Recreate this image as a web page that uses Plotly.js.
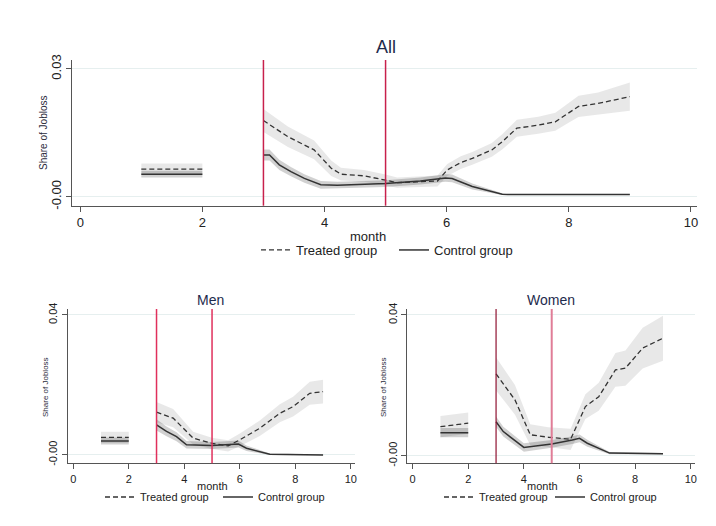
<!DOCTYPE html>
<html>
<head>
<meta charset="utf-8">
<script src="https://cdn.plot.ly/plotly-3.0.1.min.js"></script>
<style>html,body{margin:0;padding:0;background:#fff}#chart{width:716px;height:526px}</style>
</head>
<body>
<div id="chart"></div>
<script>
// ---------- data ----------
var panelTitles = ["All", "Men", "Women"];
var seriesNames = ["Treated group", "Control group"];
var xTitle = "month";
var yTitle = "Share of Jobloss";
var monthTicks = [0, 2, 4, 6, 8, 10];
var shareTickVals = [[0, 0.03], [0, 0.04], [0, 0.04]];
var shareTickText = [["-0.00", "0.03"], ["-0.00", "0.04"], ["-0.00", "0.04"]];
var eventMonths = [3, 5];

// All
var allTreatedX = [1, 2, null, 3.0, 3.40, 3.83, 4.11, 4.27, 4.65, 5.0, 5.19, 5.85, 6.01, 6.23, 6.42, 6.74, 6.91, 7.15, 7.50, 7.78, 7.99, 8.16, 8.48, 9.0];
var allTreatedY = [0.0065, 0.0065, null, 0.0179, 0.0141, 0.0110, 0.0067, 0.0053, 0.0049, 0.0039, 0.0033, 0.0037, 0.0063, 0.0080, 0.0090, 0.0110, 0.0129, 0.0161, 0.0168, 0.0176, 0.0196, 0.0212, 0.0219, 0.0235];
var allTreatedCI = [0.0013, 0.0013, null, 0.0027, 0.0024, 0.0022, 0.0018, 0.0015, 0.0014, 0.0013, 0.0012, 0.0013, 0.0014, 0.0015, 0.0015, 0.0016, 0.0018, 0.0020, 0.0020, 0.0021, 0.0023, 0.0025, 0.0026, 0.0033];
var allControlX = [1, 2, null, 3.0, 3.10, 3.26, 3.45, 3.67, 3.94, 4.21, 5.0, 5.57, 5.98, 6.09, 6.42, 6.91, 7.0, 9.0];
var allControlY = [0.0053, 0.0053, null, 0.0098, 0.0098, 0.0075, 0.0059, 0.0043, 0.0028, 0.0027, 0.0031, 0.0037, 0.0044, 0.0043, 0.0024, 0.0006, 0.0005, 0.0005];
var allControlCI = [0.0008, 0.0008, null, 0.0013, 0.0013, 0.0012, 0.0011, 0.0010, 0.0009, 0.0008, 0.0008, 0.0008, 0.0009, 0.0009, 0.0007, 0.0002, 0.0001, 0.0001];

// Men
var menTreatedX = [1, 2, null, 3.0, 3.6, 4.32, 5.0, 5.58, 6.0, 6.72, 7.44, 7.92, 8.52, 9.0];
var menTreatedY = [0.0050, 0.0050, null, 0.0122, 0.0105, 0.0048, 0.0033, 0.0026, 0.0043, 0.0076, 0.0119, 0.0138, 0.0176, 0.0181];
var menTreatedCI = [0.0016, 0.0016, null, 0.0029, 0.0026, 0.0018, 0.0016, 0.0016, 0.0018, 0.0022, 0.0026, 0.0028, 0.0033, 0.0034];
var menControlX = [1, 2, null, 3.0, 3.36, 3.72, 4.08, 5.0, 5.95, 6.24, 7.08, 9.0];
var menControlY = [0.0040, 0.0040, null, 0.0086, 0.0067, 0.0052, 0.0029, 0.0027, 0.0031, 0.0019, 0.0002, 0.0000];
var menControlCI = [0.0010, 0.0010, null, 0.0016, 0.0014, 0.0013, 0.0011, 0.0010, 0.0010, 0.0008, 0.0002, 0.0001];

// Women
var womenTreatedX = [1, 2, null, 3.0, 3.68, 4.23, 4.88, 5.68, 6.21, 6.69, 7.29, 7.65, 8.27, 9.0];
var womenTreatedY = [0.0083, 0.0093, null, 0.0233, 0.0159, 0.0060, 0.0053, 0.0047, 0.0140, 0.0168, 0.0244, 0.0249, 0.0306, 0.0334];
var womenTreatedCI = [0.0030, 0.0030, null, 0.0047, 0.0042, 0.0030, 0.0028, 0.0030, 0.0035, 0.0040, 0.0048, 0.0050, 0.0058, 0.0064];
var womenControlX = [1, 2, null, 3.0, 3.26, 4.0, 5.0, 5.74, 6.0, 6.28, 7.08, 9.0];
var womenControlY = [0.0066, 0.0066, null, 0.0097, 0.0069, 0.0024, 0.0034, 0.0045, 0.0050, 0.0036, 0.0008, 0.0006];
var womenControlCI = [0.0013, 0.0013, null, 0.0015, 0.0014, 0.0012, 0.0011, 0.0011, 0.0011, 0.0010, 0.0003, 0.0002];

// ---------- helpers ----------
function bandPolygon(xs, ys, cis) {
  var px = [], py = [], seg = [];
  function flush() {
    if (!seg.length) return;
    if (px.length) { px.push(null); py.push(null); }
    for (var i = 0; i < seg.length; i++) { px.push(xs[seg[i]]); py.push(ys[seg[i]] + cis[seg[i]]); }
    for (var j = seg.length - 1; j >= 0; j--) { px.push(xs[seg[j]]); py.push(ys[seg[j]] - cis[seg[j]]); }
    seg = [];
  }
  for (var k = 0; k < xs.length; k++) { if (xs[k] === null) flush(); else seg.push(k); }
  flush();
  return {x: px, y: py};
}

var W = 716, H = 526;
function dx(a, b) { return [a / W, b / W]; }
function dy(top, bottom) { return [1 - bottom / H, 1 - top / H]; }

var panels = [
  {tx: allTreatedX, ty: allTreatedY, tc: allTreatedCI, cx: allControlX, cy: allControlY, cc: allControlCI,
   xd: dx(71.7, 697), yd: dy(60, 205.7), xr: [-0.14, 10.1], yr: [-0.0021, 0.0321], fs: 13, tfs: 10, legend: "legend",
   vcol: ["#c8204c", "#c8204c"], vw: [1.5, 1.5],
   title: [386, 47, 18], xt: [368, 236], yt: [43, 133], lg: [256, 250, 138]},
  {tx: menTreatedX, ty: menTreatedY, tc: menTreatedCI, cx: menControlX, cy: menControlY, cc: menControlCI,
   xd: dx(67.7, 355), yd: dy(309, 463.3), xr: [-0.2, 10.15], yr: [-0.0024, 0.0417], fs: 11, tfs: 8, legend: "legend2",
   vcol: ["#e0305c", "#e0305c"], vw: [1.5, 1.5],
   title: [210, 300, 14], xt: [212, 486], yt: [45, 387], lg: [100, 497, 118]},
  {tx: womenTreatedX, ty: womenTreatedY, tc: womenTreatedCI, cx: womenControlX, cy: womenControlY, cc: womenControlCI,
   xd: dx(407.3, 695), yd: dy(309, 463.3), xr: [-0.19, 10.15], yr: [-0.0021, 0.0417], fs: 11, tfs: 8, legend: "legend3",
   vcol: ["#8e1230", "#e07d97"], vw: [1.2, 2],
   title: [551, 300, 14], xt: [542, 486], yt: [383, 387], lg: [439, 497, 111]}
];

var traces = [], shapes = [], annotations = [];
var layout = {
  width: W, height: H, margin: {l: 0, r: 0, t: 0, b: 0},
  paper_bgcolor: "#ffffff", plot_bgcolor: "#ffffff",
  font: {family: "Liberation Sans, Arial, sans-serif", color: "#222"},
  showlegend: true
};

function ann(text, x, y, size, color, angle) {
  annotations.push({text: text, xref: "paper", yref: "paper", x: x / W, y: 1 - y / H, showarrow: false,
    font: {size: size, color: color}, xanchor: "center", yanchor: "middle", textangle: angle || 0});
}

panels.forEach(function (p, i) {
  var sfx = i === 0 ? "" : String(i + 1);
  var xa = "x" + sfx, ya = "y" + sfx;
  var tb = bandPolygon(p.tx, p.ty, p.tc), cb = bandPolygon(p.cx, p.cy, p.cc);
  traces.push({x: tb.x, y: tb.y, xaxis: xa, yaxis: ya, type: "scatter", mode: "lines", fill: "toself",
    fillcolor: "rgba(0,0,0,0.09)", line: {width: 0}, hoverinfo: "skip", showlegend: false});
  traces.push({x: cb.x, y: cb.y, xaxis: xa, yaxis: ya, type: "scatter", mode: "lines", fill: "toself",
    fillcolor: "rgba(0,0,0,0.18)", line: {width: 0}, hoverinfo: "skip", showlegend: false});
  traces.push({x: p.tx, y: p.ty, xaxis: xa, yaxis: ya, type: "scatter", mode: "lines", name: seriesNames[0],
    line: {color: "#333", width: 1.3, dash: "5px,3px"}, connectgaps: false, legend: p.legend});
  traces.push({x: p.cx, y: p.cy, xaxis: xa, yaxis: ya, type: "scatter", mode: "lines", name: seriesNames[1],
    line: {color: "#333", width: 1.5}, connectgaps: false, legend: p.legend});

  layout["xaxis" + sfx] = {
    domain: p.xd, range: p.xr, anchor: ya, tickvals: monthTicks, ticks: "outside", ticklen: 5,
    tickcolor: "#555", showline: true, linecolor: "#555", linewidth: 1, showgrid: false, zeroline: false,
    tickfont: {size: p.fs, color: "#222"}
  };
  layout["yaxis" + sfx] = {
    domain: p.yd, range: p.yr, anchor: xa, tickvals: shareTickVals[i], ticktext: shareTickText[i],
    tickangle: -90, ticks: "outside", ticklen: 5, tickcolor: "#555", showline: true, linecolor: "#555",
    linewidth: 1, showgrid: true, gridcolor: "#e6efef", zeroline: false,
    tickfont: {size: p.fs, color: "#222"}
  };
  eventMonths.forEach(function (m, k) {
    shapes.push({type: "line", xref: xa, yref: ya + " domain", x0: m, x1: m, y0: 0, y1: 1,
      line: {color: p.vcol[k], width: p.vw[k]}});
  });
  ann(panelTitles[i], p.title[0], p.title[1], p.title[2], "#1e2b4d");
  ann(xTitle, p.xt[0], p.xt[1], p.fs, "#222");
  ann(yTitle, p.yt[0], p.yt[1], p.tfs, "#2b2b3b", -90);
  layout[p.legend] = {orientation: "h", x: p.lg[0] / W, y: 1 - p.lg[1] / H, xanchor: "left", yanchor: "middle",
    font: {size: p.fs, color: "#222"}, bgcolor: "rgba(0,0,0,0)", itemwidth: 30, tracegroupgap: 0,
    entrywidth: p.lg[2] - 45, entrywidthmode: "pixels"};
});

layout.shapes = shapes;
layout.annotations = annotations;

Plotly.newPlot("chart", traces, layout, {staticPlot: true, displayModeBar: false});
</script>
</body>
</html>
